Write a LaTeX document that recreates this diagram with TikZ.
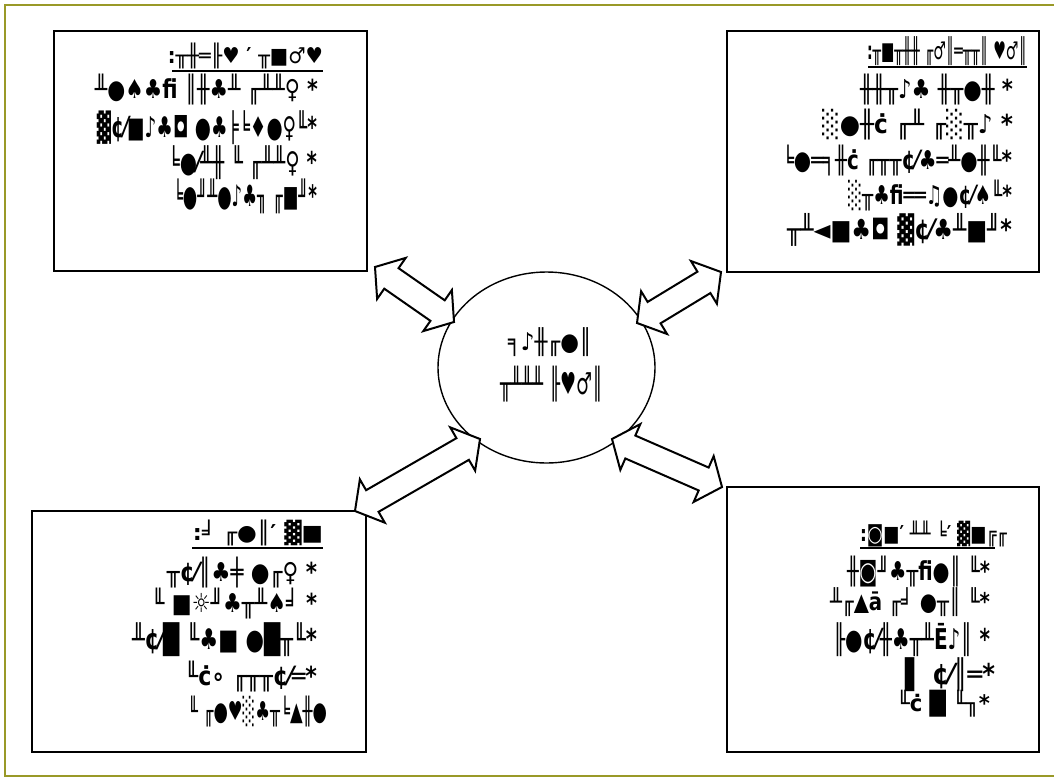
\documentclass[tikz,border=0pt]{standalone}
\usepackage{fontspec}
\usepackage{graphicx}
\newfontfamily\dv{DejaVu Sans}
\usetikzlibrary{shapes.geometric,calc}
\definecolor{frameol}{RGB}{153,153,40}
\tikzset{
  box/.style={draw, line width=2pt, rectangle, inner sep=0pt, outer sep=0pt},
  hub/.style={draw, line width=1.4pt, ellipse, inner sep=0pt, outer sep=0pt},
  barrow/.style={draw, line width=2pt, fill=white, line join=miter},
  row/.style={inner sep=0pt, outer sep=0pt},
  uline/.style={line width=2pt},
  frameline/.style={draw=frameol, line width=2.2pt}
}
\newcommand\gr[3][31pt]{\resizebox*{#2pt}{#1}{\dv\bfseries #3}}
\newcommand\dblarrow[2]{%
  \draw[barrow] (#1)
   -- ($(#1)!20pt!(#2)!25pt!90:(#2)$)
   -- ($(#1)!20pt!(#2)!12.5pt!90:(#2)$)
   -- ($(#2)!20pt!(#1)!12.5pt!-90:(#1)$)
   -- ($(#2)!20pt!(#1)!25pt!-90:(#1)$)
   -- (#2)
   -- ($(#2)!20pt!(#1)!25pt!90:(#1)$)
   -- ($(#2)!20pt!(#1)!12.5pt!90:(#1)$)
   -- ($(#1)!20pt!(#2)!12.5pt!-90:(#2)$)
   -- ($(#1)!20pt!(#2)!25pt!-90:(#2)$)
   -- cycle;}
\begin{document}
\begin{tikzpicture}[x=1pt,y=-1pt]
\useasboundingbox (0,0) rectangle (1054,777);
\fill[white] (0,0) rectangle (1054,777);
% outer frame
\draw[frameline] (1060,5) -- (5,5) -- (5,776) -- (1060,776);

% boxes
\node[box, minimum width=313pt, minimum height=240pt] (tl) at (210.5,151) {};
\node[box, minimum width=312pt, minimum height=241pt] (tr) at (883,151.5) {};
\node[box, minimum width=334pt, minimum height=241pt] (bl) at (199,631.5) {};
\node[box, minimum width=312pt, minimum height=265pt] (br) at (883,619.5) {};

% central ellipse
\node[hub, minimum width=217pt, minimum height=191pt] (hub) at (546.5,367.5) {};

% arrow end points
\coordinate (a1s) at (375,267);  \coordinate (a1e) at (454,322);
\coordinate (a2s) at (637,323);  \coordinate (a2e) at (721,272);
\coordinate (a3s) at (355,511);  \coordinate (a3e) at (480,439);
\coordinate (a4s) at (612,439);  \coordinate (a4e) at (722,487);
\dblarrow{a1s}{a1e}
\dblarrow{a2s}{a2e}
\dblarrow{a3s}{a3e}
\dblarrow{a4s}{a4e}

% hub text
\node[row] (h1) at (550,342.5) {\gr[29pt]{84}{╕♪╫╓●║}};
\node[row] (h2) at (551.5,384) {\gr[36pt]{103}{╥╨╨╨ ╟♥♂║}};

% top-left box text
\node[row] (tl1) at (245.5,56) {\gr[26pt]{155}{:╥╫═╟♥ ′ ╥■♂♥}};
\draw[uline] (172,71) -- (323,71);
\node[row] (tl2) at (206.5,90) {\gr{223}{╨●♠♣fi ║╫♣╨ ╓╨╨♀ *}};
\node[row] (tl3) at (207,127.5) {\gr[34pt]{220}{▓¢⁄■♪♣◘ ●♣╞╘♦●♀╙*}};
\node[row] (tl4) at (242.5,162.5) {\gr[34pt]{149}{╘●⁄╨╫ ╙ ╓╨╨♀ *}};
\node[row] (tl5) at (245,196.5) {\gr[35pt]{144}{╘●╜╨●♪♣╖ ╓■╜*}};

% top-right box text
\node[row] (tr1) at (947,51.5) {\gr[29pt]{160}{:╥■╥╫╫ ╓♂║═╥╥║ ♥♂║}};
\draw[uline] (868,67) -- (1027,67);
\node[row] (tr2) at (936.5,90) {\gr{153}{╫╫╥♪♣ ╫╥●╫ *}};
\node[row] (tr3) at (917.5,125) {\gr{191}{░●╫ċ ╓╨ ╓░╥♪ *}};
\node[row] (tr4) at (897,161) {\gr{230}{╘●═╕╫ċ ╓╥╥¢⁄♣═╨●╫╙*}};
\node[row] (tr5) at (930,196) {\gr{164}{░╥♣fi══♫●¢⁄♠╙*}};
\node[row] (tr6) at (899.5,230) {\gr[33pt]{225}{╥╨◄■♣◘ ▓¢⁄♣╨■╜*}};

% bottom-left box text
\node[row] (bl1) at (258,533) {\gr[26pt]{130}{:╛ ╓●║′ ▓■}};
\draw[uline] (192,548) -- (323,548);
\node[row] (bl2) at (242,573) {\gr{150}{╥¢⁄║♣╪ ●╓♀ *}};
\node[row] (bl3) at (234.5,604) {\gr{165}{╙ ■☼╜♣╥╨♠╛ *}};
\node[row] (bl4) at (224.5,639.5) {\gr[34pt]{185}{╨¢⁄█ ╙♣■ ●█╥╙*}};
\node[row] (bl5) at (251,677) {\gr{132}{╙ċ∘ ╓╥╥¢⁄═*}};
\node[row] (bl6) at (257.5,712) {\gr{139}{╙ ╓●♥░♣╥╘▲╫●}};

% bottom-right box text
\node[row] (br1) at (933.5,534) {\gr[26pt]{147}{:◙■′ ╨╨ ╘′ ▓■╔╓}};
\draw[uline] (860,548) -- (995,548);
\node[row] (br2) at (918.5,572) {\gr{143}{╫◙╜♣╥fi●║ ╙*}};
\node[row] (br3) at (910,602.5) {\gr[29pt]{160}{╨╓▲ā ╓╛ ●╥║ ╙*}};
\node[row] (br4) at (911.5,639.5) {\gr[34pt]{157}{╟●¢⁄╫♣╥╨Ē♪║ *}};
\node[row] (br5) at (950,674.5) {\gr[34pt]{90}{▌ ¢⁄║═*}};
\node[row] (br6) at (943.5,703.5) {\gr[27pt]{93}{╙ċ █ ╙╖*}};
\end{tikzpicture}
\end{document}
